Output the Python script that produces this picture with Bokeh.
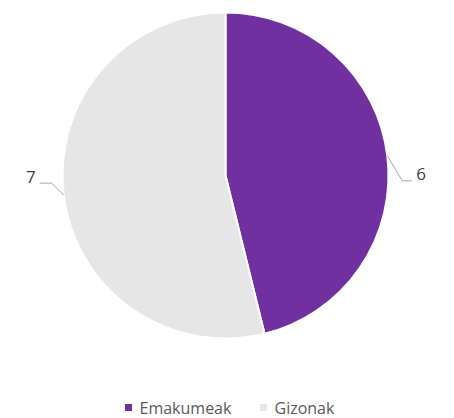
import math
from bokeh.plotting import figure
from bokeh.models import Range1d, ColumnDataSource
from bokeh.core.properties import value
from bokeh.embed import file_html
from bokeh.resources import INLINE

categories = ["Emakumeak", "Gizonak"]
counts = [6, 7]
colors = ["#7030A0", "#E6E6E6"]

W, H = 454, 418
p = figure(width=W, height=H, output_backend="svg", toolbar_location=None,
           x_range=Range1d(0, W), y_range=Range1d(0, H), min_border=0)
p.axis.visible = False
p.grid.visible = False
p.outline_line_color = None
p.background_fill_color = "white"

cx, cy, R = 225, H - 175, 163
total = sum(counts)
starts, ends, mids = [], [], []
acc = 0
for c in counts:
    a0 = math.pi / 2 - 2 * math.pi * acc / total
    a1 = math.pi / 2 - 2 * math.pi * (acc + c) / total
    starts.append(a1)
    ends.append(a0)
    mids.append((a0 + a1) / 2)
    acc += c

src = ColumnDataSource(dict(start=starts, end=ends, color=colors))
p.wedge(x=cx, y=cy, radius=R, radius_units="screen", start_angle="start", end_angle="end",
        fill_color="color", line_color="white", line_width=2, source=src)

# data labels with leader lines
for m, c in zip(mids, counts):
    ex = cx + R * math.cos(m)
    ey = cy + R * math.sin(m)
    if math.cos(m) >= 0:
        bx, by = ex + 15, ey - 25
        hx = bx + 10
        p.line([ex, bx, hx], [ey, by, by], line_color="#A6A6A6", line_width=1)
        p.text(x=[hx + 4], y=[by + 7], text=[str(c)], text_font=value("Open Sans"),
               text_font_size="17px", text_color="#404040", text_baseline="middle", text_align="left")
    else:
        bx, by = ex - 12, ey + 12
        hx = bx - 12
        p.line([ex, bx, hx], [ey, by, by], line_color="#A6A6A6", line_width=1)
        p.text(x=[hx - 4], y=[by + 6], text=[str(c)], text_font=value("Open Sans"),
               text_font_size="17px", text_color="#404040", text_baseline="middle", text_align="right")

# legend
leg_y = H - 407
leg_x = [128, 263]
for lx, name, col in zip(leg_x, categories, colors):
    p.scatter(x=[lx], y=[leg_y], marker="square", size=7, fill_color=col, line_color=None)
    p.text(x=[lx + 11], y=[leg_y], text=[name], text_font=value("Open Sans"),
           text_font_size="16px", text_color="#595959", text_baseline="middle", text_align="left")

open("out.html", "w").write(file_html(p, INLINE))
